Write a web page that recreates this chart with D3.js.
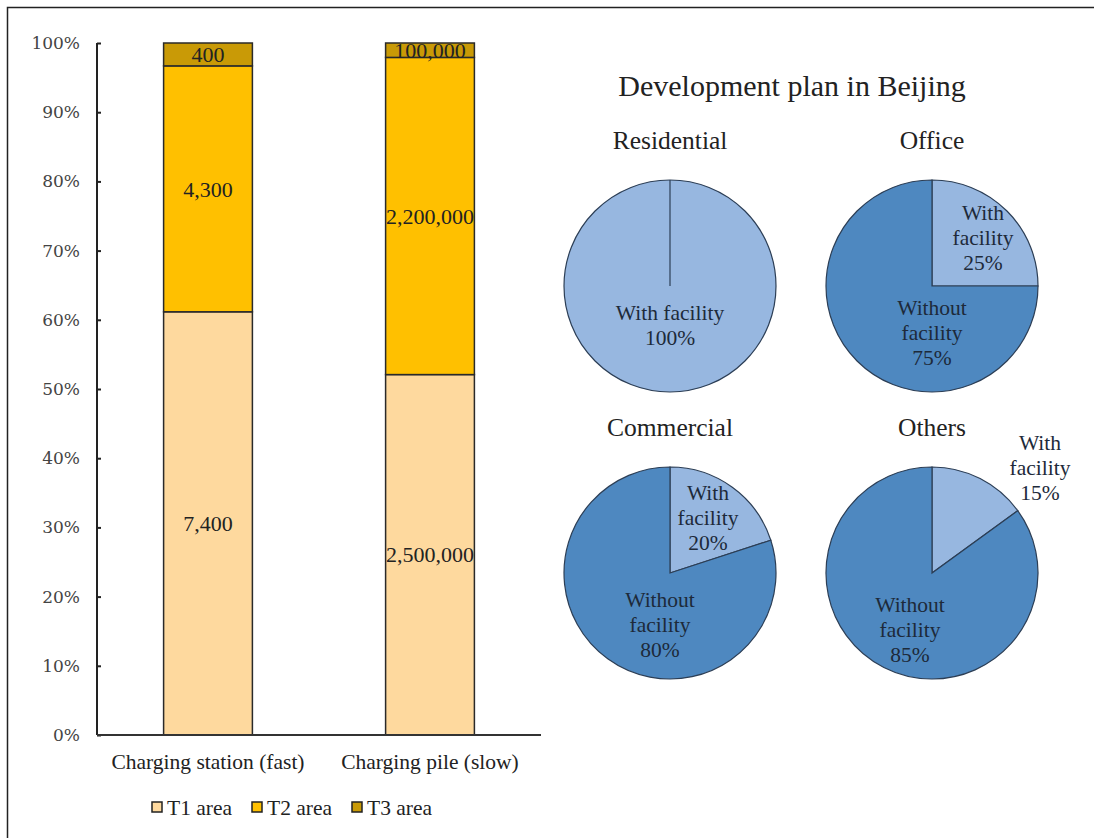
<!DOCTYPE html>
<html>
<head>
<meta charset="utf-8">
<script src="https://cdn.jsdelivr.net/npm/d3@7"></script>
<style>
  body { margin: 0; background: #fff; }
  text { font-family: "Liberation Serif", "Times New Roman", serif; }
</style>
</head>
<body>
<script>
// stacked bar data
var categories = ["Charging station (fast)", "Charging pile (slow)"];
var areas = ["T1 area", "T2 area", "T3 area"];
var t1Values = [7400, 2500000];
var t2Values = [4300, 2200000];
var t3Values = [400, 100000];
var areaColors = ["#FED99E", "#FFC000", "#C99A06"];
var yTicks = [0, 0.1, 0.2, 0.3, 0.4, 0.5, 0.6, 0.7, 0.8, 0.9, 1];

// pie data
var pieNames = ["Residential", "Office", "Commercial", "Others"];
var withFacility = [100, 25, 20, 15];
var withoutFacility = [0, 75, 80, 85];
var pieColors = ["#97B7E0", "#4E88C0"];

var W = 1094, H = 838;
var svg = d3.select("body").append("svg")
    .attr("width", W)
    .attr("height", H);

// frame
svg.append("path")
    .attr("d", "M7.5," + H + " V7.5 H" + W)
    .attr("fill", "none")
    .attr("stroke", "#222")
    .attr("stroke-width", 1.5);

// ****************** bar section ***************************
var margin = { top: 43, left: 97 },
    plotW = 444, plotH = 692;

var g = svg.append("g")
    .attr("transform", "translate(" + margin.left + "," + margin.top + ")");

var x = d3.scaleBand().domain(categories).range([0, plotW]).paddingInner(0.6).paddingOuter(0.3);
var y = d3.scaleLinear().domain([0, 1]).range([plotH, 0]);

var table = categories.map(function (c, i) {
    return { cat: c, "T1 area": t1Values[i], "T2 area": t2Values[i], "T3 area": t3Values[i] };
});
var stackGen = d3.stack().keys(areas).offset(d3.stackOffsetExpand);
var series = stackGen(table);

var yAxis = g.append("g")
    .call(d3.axisLeft(y).tickValues(yTicks).tickSize(-4).tickPadding(17).tickFormat(d3.format(".0%")));
yAxis.select(".domain").attr("stroke", "#222").attr("stroke-width", 2).attr("d", "M0,0V" + plotH);
yAxis.selectAll(".tick line").attr("stroke", "#222").attr("stroke-width", 2);
yAxis.selectAll("text")
    .attr("fill", "#444")
    .style("font-family", "'DejaVu Serif', serif")
    .attr("font-size", 17);

series.forEach(function (s, k) {
    g.selectAll(".seg" + k)
        .data(s)
        .enter().append("rect")
        .attr("x", function (d) { return x(d.data.cat); })
        .attr("y", function (d) { return y(d[1]); })
        .attr("width", x.bandwidth())
        .attr("height", function (d) { return y(d[0]) - y(d[1]); })
        .attr("fill", areaColors[k])
        .attr("stroke", "#2a2a2a")
        .attr("stroke-width", 1.5);

    g.selectAll(".lab" + k)
        .data(s)
        .enter().append("text")
        .attr("x", function (d) { return x(d.data.cat) + x.bandwidth() / 2; })
        .attr("y", function (d) { return (y(d[0]) + y(d[1])) / 2; })
        .attr("dy", "0.35em")
        .attr("text-anchor", "middle")
        .attr("font-size", 22)
        .attr("fill", "#222")
        .text(function (d) { return d3.format(",")(d.data[areas[k]]); });
});

// baseline
g.append("line")
    .attr("x1", 0).attr("x2", plotW)
    .attr("y1", plotH).attr("y2", plotH)
    .attr("stroke", "#333").attr("stroke-width", 2);

// category labels
g.selectAll(".cat")
    .data(categories)
    .enter().append("text")
    .attr("x", function (d) { return x(d) + x.bandwidth() / 2; })
    .attr("y", plotH + 34)
    .attr("text-anchor", "middle")
    .attr("font-size", 21.5)
    .attr("fill", "#222")
    .text(function (d) { return d; });

// legend
var legend = svg.append("g").attr("transform", "translate(152,807)");
var lg = legend.selectAll("g")
    .data(areas)
    .enter().append("g")
    .attr("transform", function (d, i) { return "translate(" + (i * 100) + ",0)"; });
lg.append("rect")
    .attr("x", 0).attr("y", -5)
    .attr("width", 10).attr("height", 10)
    .attr("fill", function (d, i) { return areaColors[i]; })
    .attr("stroke", "#222")
    .attr("stroke-width", 1.5);
lg.append("text")
    .attr("x", 15).attr("y", 0)
    .attr("dy", "0.35em")
    .attr("font-size", 21.5)
    .attr("fill", "#222")
    .text(function (d) { return d; });

// ****************** pie section ***************************
svg.append("text")
    .attr("x", 792).attr("y", 85)
    .attr("dy", "0.35em")
    .attr("text-anchor", "middle")
    .attr("font-size", 30)
    .attr("fill", "#222")
    .text("Development plan in Beijing");

var centers = [[670, 286], [932, 286], [670, 573], [932, 573]];
var radius = 106;
var pie = d3.pie().sort(null).value(function (d) { return d.v; });
var arc = d3.arc().innerRadius(0).outerRadius(radius);

// label positions relative to each pie's centre, per slice
var labelSpots = [
    [[0, 39]],
    [[51, -49], [0, 46]],
    [[38, -56], [-10, 51]],
    [[108, -106], [-22, 56]]
];

pieNames.forEach(function (name, i) {
    var cx = centers[i][0], cy = centers[i][1];
    var pg = svg.append("g").attr("transform", "translate(" + cx + "," + cy + ")");

    pg.append("text")
        .attr("x", 0).attr("y", -146)
        .attr("dy", "0.35em")
        .attr("text-anchor", "middle")
        .attr("font-size", 25.5)
        .attr("fill", "#222")
        .text(name);

    var slices = [
        { label: "With facility", v: withFacility[i] },
        { label: "Without facility", v: withoutFacility[i] }
    ];
    var arcs = pie(slices).filter(function (d) { return d.data.v > 0; });

    pg.selectAll("path")
        .data(arcs)
        .enter().append("path")
        .attr("d", arc)
        .attr("fill", function (d) { return pieColors[d.index]; })
        .attr("stroke", "#2c3e55")
        .attr("stroke-width", 1.2);

    if (withoutFacility[i] === 0) {
        // full circle still shows its start edge
        pg.append("line")
            .attr("x1", 0).attr("y1", 0)
            .attr("x2", 0).attr("y2", -radius)
            .attr("stroke", "#2c3e55").attr("stroke-width", 1.2);
    }

    arcs.forEach(function (d, k) {
        var spot = labelSpots[i][k];
        var pct = d.data.v + "%";
        var lines = (i === 0) ? ["With facility", pct]
            : (d.index === 0 ? ["With", "facility", pct] : ["Without", "facility", pct]);
        var t = pg.append("text")
            .attr("text-anchor", "middle")
            .attr("font-size", 21.5)
            .attr("fill", "#1d2a3a");
        var top = spot[1] - (lines.length - 1) * 12.5;
        lines.forEach(function (ln, j) {
            t.append("tspan")
                .attr("x", spot[0])
                .attr("y", top + j * 25)
                .attr("dy", "0.35em")
                .text(ln);
        });
    });
});
</script>
</body>
</html>
